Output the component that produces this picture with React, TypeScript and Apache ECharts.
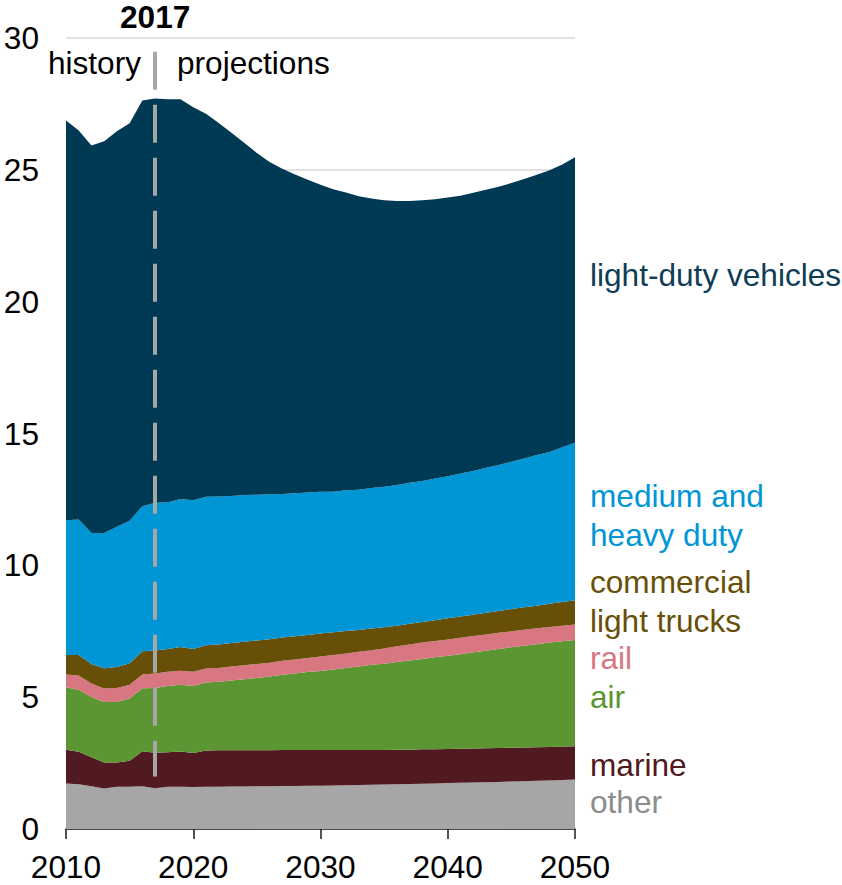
import React, { useEffect, useRef } from "react";
import * as echarts from "echarts";

const years = [
  2010, 2011, 2012, 2013, 2014, 2015, 2016, 2017, 2018, 2019,
  2020, 2021, 2022, 2023, 2024, 2025, 2026, 2027, 2028, 2029,
  2030, 2031, 2032, 2033, 2034, 2035, 2036, 2037, 2038, 2039,
  2040, 2041, 2042, 2043, 2044, 2045, 2046, 2047, 2048, 2049, 2050,
];

const other = [
  1.73, 1.7, 1.62, 1.54, 1.6, 1.6, 1.62, 1.55, 1.6, 1.6,
  1.59, 1.6, 1.6, 1.61, 1.61, 1.62, 1.62, 1.63, 1.63, 1.64,
  1.64, 1.65, 1.66, 1.67, 1.68, 1.69, 1.7, 1.71, 1.72, 1.73,
  1.74, 1.75, 1.76, 1.77, 1.78, 1.8, 1.81, 1.83, 1.84, 1.86, 1.88,
];
const marine = [
  1.28, 1.23, 1.1, 0.98, 0.92, 0.99, 1.33, 1.34, 1.31, 1.34,
  1.29, 1.38, 1.39, 1.38, 1.38, 1.37, 1.37, 1.37, 1.37, 1.36,
  1.36, 1.35, 1.34, 1.33, 1.32, 1.31, 1.31, 1.3, 1.3, 1.29,
  1.29, 1.29, 1.29, 1.29, 1.29, 1.28, 1.28, 1.27, 1.27, 1.27, 1.26,
];
const air = [
  2.37, 2.35, 2.29, 2.3, 2.3, 2.36, 2.39, 2.46, 2.51, 2.53,
  2.54, 2.58, 2.59, 2.64, 2.69, 2.74, 2.79, 2.85, 2.9, 2.95,
  2.99, 3.05, 3.11, 3.16, 3.23, 3.27, 3.32, 3.38, 3.43, 3.49,
  3.54, 3.59, 3.65, 3.7, 3.76, 3.81, 3.86, 3.91, 3.96, 3.99, 4.03,
];
const rail = [
  0.48, 0.54, 0.51, 0.51, 0.53, 0.52, 0.52, 0.55, 0.54, 0.53,
  0.54, 0.53, 0.53, 0.53, 0.53, 0.53, 0.53, 0.53, 0.53, 0.54,
  0.55, 0.55, 0.55, 0.56, 0.55, 0.58, 0.6, 0.61, 0.62, 0.62,
  0.62, 0.62, 0.62, 0.62, 0.61, 0.61, 0.61, 0.6, 0.59, 0.59, 0.59,
];
const commercialLightTrucks = [
  0.74, 0.78, 0.74, 0.77, 0.79, 0.82, 0.88, 0.87, 0.87, 0.9,
  0.87, 0.88, 0.89, 0.89, 0.89, 0.89, 0.89, 0.88, 0.88, 0.87,
  0.87, 0.86, 0.85, 0.83, 0.82, 0.8, 0.78, 0.78, 0.78, 0.79,
  0.8, 0.81, 0.81, 0.82, 0.83, 0.84, 0.85, 0.86, 0.88, 0.9, 0.92,
];
const mediumHeavy = [
  5.11, 5.14, 4.97, 5.13, 5.32, 5.4, 5.5, 5.6, 5.56, 5.62,
  5.64, 5.63, 5.61, 5.58, 5.57, 5.53, 5.5, 5.45, 5.42, 5.4,
  5.38, 5.33, 5.34, 5.32, 5.33, 5.33, 5.34, 5.35, 5.35, 5.37,
  5.39, 5.42, 5.45, 5.5, 5.54, 5.59, 5.64, 5.71, 5.76, 5.87, 5.97,
];
const lightDuty = [
  15.16, 14.75, 14.69, 14.85, 15.0, 15.08, 15.39, 15.34, 15.29, 15.16,
  14.9, 14.53, 14.17, 13.78, 13.36, 12.96, 12.6, 12.33, 12.09, 11.86,
  11.64, 11.47, 11.29, 11.13, 10.98, 10.87, 10.77, 10.69, 10.65, 10.59,
  10.57, 10.54, 10.55, 10.54, 10.55, 10.57, 10.6, 10.63, 10.68, 10.72, 10.83,
];

const yTicks = [0, 5, 10, 15, 20, 25, 30];
const xLabelEvery = 10;
const lastHistoryYear = "2017";
const dividerRange = [1.99, 29.48];

const seriesDefs = [
  { name: "other", data: other, color: "#a6a6a6", label: "other", labelColor: "#8c8c8c", labelY: 802 },
  { name: "marine", data: marine, color: "#511920", label: "marine", labelColor: "#511920", labelY: 765 },
  { name: "air", data: air, color: "#5c9632", label: "air", labelColor: "#5c9632", labelY: 697 },
  { name: "rail", data: rail, color: "#d87681", label: "rail", labelColor: "#d87681", labelY: 658 },
  { name: "commercial light trucks", data: commercialLightTrucks, color: "#684f08", label: "commercial\nlight trucks", labelColor: "#684f08", labelY: 601 },
  { name: "medium and heavy duty", data: mediumHeavy, color: "#0096d6", label: "medium and\nheavy duty", labelColor: "#0096d6", labelY: 515 },
  { name: "light-duty vehicles", data: lightDuty, color: "#003953", label: "light-duty vehicles", labelColor: "#0e3d56", labelY: 275 },
];

const FONT = "'Liberation Sans', Arial, sans-serif";
const FS = 31.6;

export default function App() {
  const ref = useRef<HTMLDivElement>(null);

  useEffect(() => {
    document.body.style.margin = "0";
    if (!ref.current) return;
    const chart = echarts.init(ref.current, null, { renderer: "svg" });

    const series: any[] = seriesDefs.map((s, i) => {
      const obj: any = {
        name: s.name,
        type: "line",
        stack: "total",
        symbol: "none",
        showSymbol: false,
        lineStyle: { width: 0, color: s.color },
        areaStyle: { color: s.color, opacity: 1 },
        itemStyle: { color: s.color },
        data: s.data,
      };
      if (i === seriesDefs.length - 1) {
        obj.markLine = {
          silent: true,
          symbol: ["none", "none"],
          label: { show: false },
          lineStyle: { color: "#a6a6a6", width: 4, type: [38, 15] },
          data: [
            [
              { coord: [lastHistoryYear, dividerRange[1]] },
              { coord: [lastHistoryYear, dividerRange[0]] },
            ],
          ],
        };
      }
      return obj;
    });

    const labelGraphics: any[] = seriesDefs.map((s) => ({
      type: "text",
      left: 590,
      top: s.labelY - (s.label.includes("\n") ? 39 : 19.5),
      z: 100,
      style: {
        text: s.label,
        fill: s.labelColor,
        font: `${FS}px ${FONT}`,
        lineHeight: 39,
      },
    }));

    chart.setOption({
      animation: false,
      textStyle: { fontFamily: FONT },
      grid: { left: 66, right: 267, top: 38, bottom: 56, containLabel: false },
      xAxis: {
        type: "category",
        boundaryGap: false,
        data: years.map(String),
        axisLine: { show: true, lineStyle: { color: "#1a1a1a", width: 1.5 } },
        axisTick: {
          show: true,
          length: 10,
          interval: xLabelEvery - 1,
          lineStyle: { color: "#1a1a1a", width: 1.5 },
        },
        axisLabel: {
          color: "#000",
          fontSize: FS,
          fontFamily: FONT,
          margin: 22,
          interval: xLabelEvery - 1,
        },
        splitLine: { show: false },
      },
      yAxis: {
        type: "value",
        min: yTicks[0],
        max: yTicks[yTicks.length - 1],
        interval: 5,
        axisLine: { show: false },
        axisTick: { show: false },
        axisLabel: { color: "#000", fontSize: FS, fontFamily: FONT, margin: 27 },
        splitLine: { show: true, lineStyle: { color: "#d9d9d9", width: 1.5 } },
      },
      series,
      graphic: [
        {
          type: "text",
          left: 120,
          top: 1,
          style: { text: "2017", fill: "#000", font: `bold ${FS}px ${FONT}` },
        },
        {
          type: "text",
          right: 842 - 141,
          top: 47,
          style: { text: "history", fill: "#000", font: `${FS}px ${FONT}` },
        },
        {
          type: "text",
          left: 177,
          top: 47,
          style: { text: "projections", fill: "#000", font: `${FS}px ${FONT}` },
        },
        ...labelGraphics,
      ],
    });

    return () => chart.dispose();
  }, []);

  return <div ref={ref} style={{ width: 842, height: 885 }} />;
}
